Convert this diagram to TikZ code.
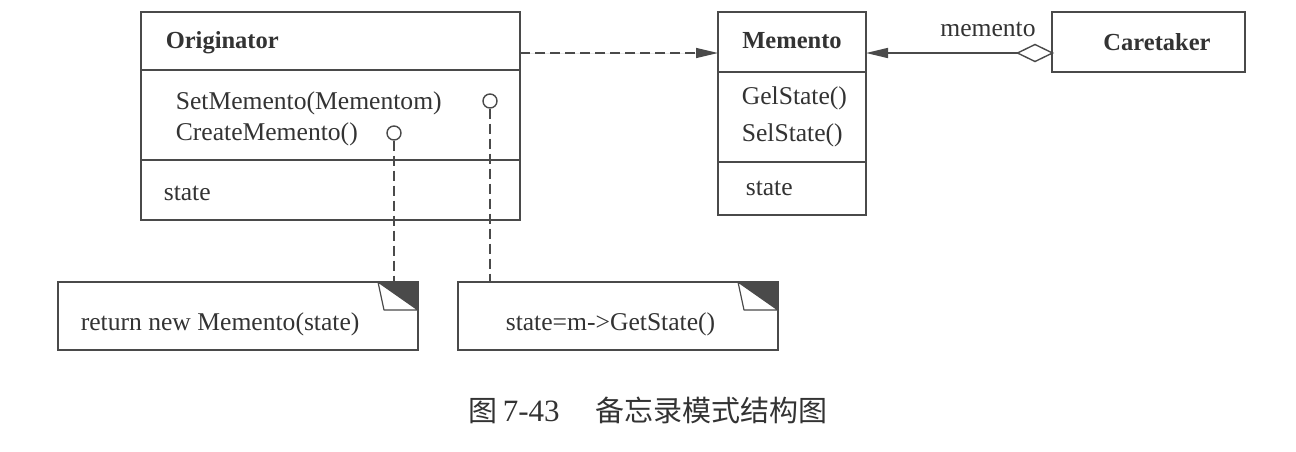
\documentclass[tikz,border=0pt]{standalone}
\usepackage{fontspec}
\setmainfont{Liberation Serif}
\newfontfamily\cjk{Noto Sans CJK SC}
\usetikzlibrary{arrows.meta,shapes.geometric}
\definecolor{ln}{HTML}{4A4A4A}
\definecolor{tx}{HTML}{333333}
\begin{document}
\begin{tikzpicture}[x=1pt,y=-1pt,line width=1.6pt,
  box/.style={draw=ln,rectangle,inner sep=0pt,outer sep=0pt},
  lbl/.style={inner sep=0pt,text=tx,font=\fontsize{25.6}{28}\selectfont},
  blbl/.style={inner sep=0pt,text=tx,font=\fontsize{24.5}{28}\selectfont\bfseries},
  hollow/.style={draw=ln,fill=white,line width=1.4pt},
  dsh/.style={draw=ln,dash pattern=on 10pt off 5pt,line width=1.4pt},
  tri/.style={-{Triangle[length=22pt,width=10pt]}}]
\useasboundingbox (0,0) rectangle (1296,451);
\fill[white] (0,0) rectangle (1296,451);
% Originator
\node[box,minimum width=379pt,minimum height=208pt] (orig) at (330.5,116) {};
\draw[ln] (141,70) -- (520,70);
\draw[ln] (141,160) -- (520,160);
\node[blbl,anchor=base west] (origt) at (165,48) {Originator};
\node[lbl,anchor=base west] (om1) at (175,109) {SetMemento(Mementom)};
\node[lbl,anchor=base west] (om2) at (175,140) {CreateMemento()};
\node[lbl,anchor=base west] (oa) at (163,200) {state};
\node[hollow,circle,minimum size=14pt,inner sep=0pt] (c1) at (490,101) {};
\node[hollow,circle,minimum size=14pt,inner sep=0pt] (c2) at (394,133) {};
% Memento
\node[box,minimum width=148pt,minimum height=203pt] (mem) at (792,113.5) {};
\draw[ln] (718,72) -- (866,72);
\draw[ln] (718,162) -- (866,162);
\node[blbl,anchor=base] (memt) at (792,48) {Memento};
\node[lbl,anchor=base west] (mm1) at (741,104) {GelState()};
\node[lbl,anchor=base west] (mm2) at (741,141) {SelState()};
\node[lbl,anchor=base west] (ma) at (745,195) {state};
% Caretaker
\node[box,minimum width=193pt,minimum height=60pt] (care) at (1148.5,42) {};
\node[blbl,anchor=base] (caret) at (1157,50) {Caretaker};
% connectors
\coordinate (oa1) at (520,53);
\coordinate (ma1) at (718,53);
\draw[dsh,tri,fill=ln] (oa1) -- (ma1);
\coordinate (mr1) at (866,53);
\node[hollow,diamond,minimum width=35pt,minimum height=17pt,inner sep=0pt,outer sep=0pt] (dm) at (1035,53) {};
\draw[ln,tri,fill=ln] (dm.west) -- (mr1);
\node[lbl,anchor=base] (rl) at (988,36) {memento};
% notes
\node[box,minimum width=360pt,minimum height=68pt] (n1) at (238,316) {};
\fill[ln] (378,282) -- (418,282) -- (418,310) -- cycle;
\draw[ln,fill=white,line width=1.2pt,line join=round] (378,282) -- (384,310) -- (418,310) -- cycle;
\node[lbl,anchor=base west] (n1t) at (80,330) {return new Memento(state)};
\node[box,minimum width=320pt,minimum height=68pt] (n2) at (618,316) {};
\fill[ln] (738,282) -- (778,282) -- (778,310) -- cycle;
\draw[ln,fill=white,line width=1.2pt,line join=round] (738,282) -- (744,310) -- (778,310) -- cycle;
\node[lbl,anchor=base west] (n2t) at (505,330) {state=m->GetState()};
\draw[dsh] (c2.south) -- (c2.south |- n1.north);
\draw[dsh] (c1.south) -- (c1.south |- n2.north);
% caption
\node[inner sep=0pt,text=tx,anchor=base west,font=\fontsize{29}{32}\selectfont] (cap) at (468,421) {\cjk 图\hspace{5pt}{\rmfamily\fontsize{31}{34}\selectfont 7-43}\hspace{36pt}备忘录模式结构图};
\end{tikzpicture}
\end{document}
